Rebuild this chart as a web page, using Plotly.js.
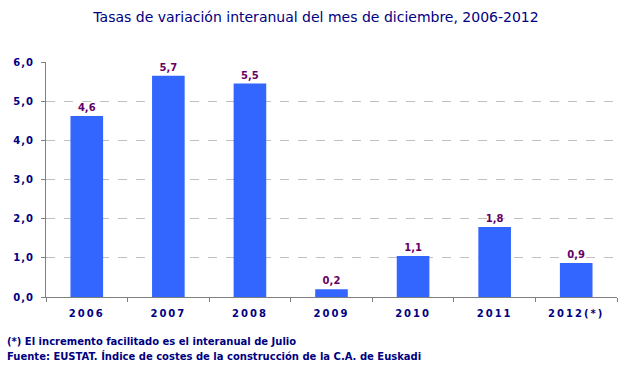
<!DOCTYPE html>
<html>
<head>
<meta charset="utf-8">
<script src="https://cdn.plot.ly/plotly-3.0.1.min.js"></script>
<style>
html,body{margin:0;padding:0;background:#fff;}
#chart{width:632px;height:372px;}
.xtick text{letter-spacing:2px;}
.ytick text{letter-spacing:1px;}
</style>
</head>
<body>
<div id="chart"></div>
<script>
const categories = ["2006", "2007", "2008", "2009", "2010", "2011", "2012(*)"];
const values = [4.62, 5.65, 5.45, 0.2, 1.05, 1.79, 0.87];
const valueLabels = ["4,6", "5,7", "5,5", "0,2", "1,1", "1,8", "0,9"];
const yTickVals = [0, 1, 2, 3, 4, 5, 6];

const navy = "#000080";
const font = "Verdana, 'DejaVu Sans', sans-serif";

const trace = {
  type: "bar",
  x: categories,
  y: values,
  text: valueLabels,
  textposition: "outside",
  cliponaxis: false,
  textfont: {family: font, size: 10, color: "#660066", weight: "bold"},
  marker: {color: "#3366FF", line: {width: 0}},
  hoverinfo: "none"
};

const layout = {
  width: 632,
  height: 372,
  margin: {l: 46, r: 15, t: 62, b: 75},
  paper_bgcolor: "#ffffff",
  plot_bgcolor: "#ffffff",
  separators: ",.",
  bargap: 0.6,
  showlegend: false,
  title: {
    text: "Tasas de variación interanual del mes de diciembre, 2006-2012",
    font: {family: font, size: 14, color: navy},
    x: 0.5, xanchor: "center", y: 0.955, yanchor: "middle"
  },
  xaxis: {
    type: "category",
    showgrid: false,
    showline: true,
    linecolor: "#808080",
    linewidth: 1,
    ticks: "outside",
    tickson: "boundaries",
    ticklen: 4,
    tickcolor: "#808080",
    ticklabelstandoff: 7,
    tickfont: {family: font, size: 10, color: navy, weight: "bold"},
    fixedrange: true
  },
  yaxis: {
    range: [0, 6],
    tickvals: yTickVals,
    tickformat: ".1f",
    showgrid: true,
    gridcolor: "#c0c0c0",
    griddash: "dash",
    gridwidth: 1,
    zeroline: false,
    showline: true,
    linecolor: "#808080",
    linewidth: 1,
    ticks: "outside",
    ticklen: 4,
    tickcolor: "#808080",
    ticklabelstandoff: 5,
    tickfont: {family: font, size: 10, color: navy, weight: "bold"},
    fixedrange: true
  },
  annotations: [
    {
      text: "(*) El incremento facilitado es el interanual de Julio",
      xref: "paper", yref: "paper", x: -0.071, y: -0.19,
      xanchor: "left", yanchor: "middle", showarrow: false,
      font: {family: font, size: 10, color: navy, weight: "bold"}
    },
    {
      text: "Fuente: EUSTAT. Índice de costes de la construcción de la C.A. de Euskadi",
      xref: "paper", yref: "paper", x: -0.071, y: -0.25,
      xanchor: "left", yanchor: "middle", showarrow: false,
      font: {family: font, size: 10, color: navy, weight: "bold"}
    }
  ]
};

Plotly.newPlot("chart", [trace], layout, {displayModeBar: false, staticPlot: true});
</script>
</body>
</html>
